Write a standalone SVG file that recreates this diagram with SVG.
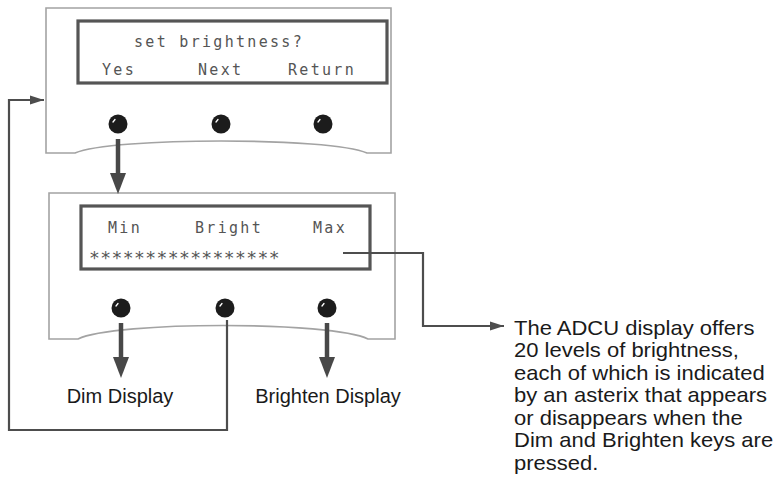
<svg xmlns="http://www.w3.org/2000/svg" width="779" height="486" viewBox="0 0 779 486">
<defs>
<style>
.panel{fill:#fff;stroke:#a3a3a3;stroke-width:1.6}
.lcd{fill:#fff;stroke:#555;stroke-width:3.2}
.lcdt{font-family:"DejaVu Sans Mono","Liberation Mono",monospace;font-size:15px;fill:#555;letter-spacing:2.3px}
.ast{font-family:"DejaVu Sans Mono","Liberation Mono",monospace;font-size:18px;fill:#555;letter-spacing:0.4px}
.btn{fill:#1c1c1c}
.hl{stroke:#fff;stroke-width:1.3;stroke-linecap:round;fill:none}
.thick{stroke:#484848;stroke-width:4.5;fill:none}
.conn{stroke:#4d4d4d;stroke-width:2.2;fill:none}
.lbl{font-family:"Liberation Sans",Arial,sans-serif;font-size:20px;fill:#1a1a1a}
.para{font-family:"Liberation Sans",Arial,sans-serif;font-size:20px;fill:#1a1a1a}
</style>
<marker id="bigHead" markerUnits="userSpaceOnUse" markerWidth="16" markerHeight="22" refX="8" refY="0" orient="0" viewBox="0 0 16 22">
<path d="M0,0 L16,0 L8,21 Z" fill="#484848"/>
</marker>
<marker id="smallHead" markerUnits="userSpaceOnUse" markerWidth="14" markerHeight="10" refX="14" refY="5" orient="auto" viewBox="0 0 14 10">
<path d="M0,0.5 L14,5 L0,9.5 Z" fill="#4d4d4d"/>
</marker>
</defs>
<g id="panel-top">
<path class="panel" d="M46,8 H391 V153 H367 C330,137 112,137 75,153 H46 Z"/>
<rect class="lcd" x="78" y="21" width="309" height="62"/>
<text class="lcdt" x="134" y="47">set brightness?</text>
<text class="lcdt" x="102" y="75">Yes</text>
<text class="lcdt" x="198" y="75">Next</text>
<text class="lcdt" x="288" y="75">Return</text>
<circle class="btn" cx="118" cy="124" r="9.5"/>
<path class="hl" d="M113,122 L115,119.5"/>
<circle class="btn" cx="221" cy="124" r="9.5"/>
<path class="hl" d="M216,122 L218,119.5"/>
<circle class="btn" cx="323" cy="124" r="9.5"/>
<path class="hl" d="M318,122 L320,119.5"/>
</g>
<g id="panel-bottom">
<path class="panel" d="M49,193 H395 V339 H368 C332,321 114,321 78,339 H49 Z"/>
<rect class="lcd" x="81" y="206" width="289" height="63"/>
<text class="lcdt" x="108" y="233">Min</text>
<text class="lcdt" x="195" y="233">Bright</text>
<text class="lcdt" x="313" y="233">Max</text>
<text class="ast" x="89" y="264">*****************</text>
<circle class="btn" cx="121" cy="308" r="9.5"/>
<path class="hl" d="M116,306 L118,303.5"/>
<circle class="btn" cx="225" cy="308" r="9.5"/>
<path class="hl" d="M220,306 L222,303.5"/>
<circle class="btn" cx="327" cy="308" r="9.5"/>
<path class="hl" d="M322,306 L324,303.5"/>
</g>
<g id="label-dim"><text class="lbl" x="120" y="403" text-anchor="middle">Dim Display</text></g>
<g id="label-brighten"><text class="lbl" x="328" y="403" text-anchor="middle">Brighten Display</text></g>
<g id="note">
<text class="para" transform="scale(1.1 1)">
<tspan x="467.3" y="335">The ADCU display offers</tspan>
<tspan x="467.3" y="357.5">20 levels of brightness,</tspan>
<tspan x="467.3" y="380">each of which is indicated</tspan>
<tspan x="467.3" y="402.5">by an asterix that appears</tspan>
<tspan x="467.3" y="425">or disappears when the</tspan>
<tspan x="467.3" y="447.5">Dim and Brighten keys are</tspan>
<tspan x="467.3" y="470">pressed.</tspan>
</text>
</g>
<g id="connectors">
<path class="thick" d="M118,139 V173" marker-end="url(#bigHead)"/>
<path class="thick" d="M121,323 V357" marker-end="url(#bigHead)"/>
<path class="thick" d="M327,323 V357" marker-end="url(#bigHead)"/>
<path class="conn" d="M227,320 V430 H9 V100 H44" marker-end="url(#smallHead)"/>
<path class="conn" d="M343,253 H423 V326 H504" marker-end="url(#smallHead)"/>
</g>
</svg>
